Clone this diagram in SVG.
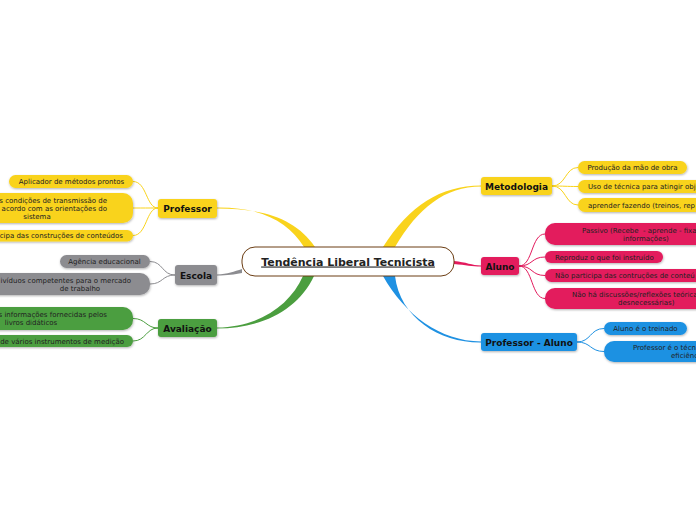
<svg xmlns="http://www.w3.org/2000/svg" width="696" height="520" viewBox="0 0 696 520">
<defs>
<filter id="sh" x="-20%" y="-20%" width="140%" height="160%"><feDropShadow dx="0.5" dy="1" stdDeviation="0.8" flood-color="#000" flood-opacity="0.3"/></filter>
</defs>
<style>
text{font-family:"DejaVu Sans","Verdana",sans-serif;fill:#222;}
.leaf{font-size:7px;}
.br{font-size:9px;font-weight:bold;fill:#111;}
.y{fill:#f9d31c;}
.g{fill:#8c8c90;}
.gr{fill:#4b9e3f;}
.p{fill:#e31a5d;}
.b{fill:#1f91e2;}
.c{fill:none;stroke-width:1;}
</style>
<rect width="696" height="520" fill="#fff"/>
<g id="connectors">
<path d="M217,207.5 C262,207 288,222 304,247 L315,247 C296,219 264,208.5 217,208.5 Z" fill="#f9d31c"/>
<path d="M481,185.5 C440,186 410,205 383,247 L395,247 C418,208 445,186.5 481,186.5 Z" fill="#f9d31c"/>
<path d="M217,327.5 C260,327 290,305 303,276 L314,276 C298,310 262,328.5 217,328.5 Z" fill="#4b9e3f"/>
<path d="M383,276 C405,315 440,341 481,341.5 L481,342.5 C440,343 400,318 395,276 Z" fill="#1f91e2"/>
<path d="M217,274.5 C228,274 234,271.5 242,269 L242,273 C234,274.5 228,275.5 217,275.5 Z" fill="#8c8c90"/>
<path d="M454,261 C466,262 472,265.5 481,265.5 L481,266.5 C472,266.5 466,265 454,264 Z" fill="#e31a5d"/>
<g stroke="#f9d31c" class="c">
<path d="M158,208 C146,208 147,181.5 133,181.5"/>
<path d="M158,208 C146,208 145,208 133,208"/>
<path d="M158,208 C146,208 147,235.5 133,235.5"/>
<path d="M552,186 C566,186 565,167.5 578,167.5"/>
<path d="M552,186 C565,186 565,186.5 578,186.5"/>
<path d="M552,186 C566,186 565,205 578,205"/>
</g>
<g stroke="#8c8c90" class="c">
<path d="M175,275 C162,275 163,261.5 150,261.5"/>
<path d="M175,275 C162,275 163,284 150,284"/>
</g>
<g stroke="#4b9e3f" class="c">
<path d="M158,328 C146,328 146,318.5 133,318.5"/>
<path d="M158,328 C146,328 146,341 133,341"/>
</g>
<g stroke="#e31a5d" class="c">
<path d="M519,266 C533,266 531,234 545,234"/>
<path d="M519,266 C533,266 531,257 545,257"/>
<path d="M519,266 C533,266 531,275.5 545,275.5"/>
<path d="M519,266 C533,266 531,298.5 545,298.5"/>
</g>
<g stroke="#1f91e2" class="c">
<path d="M577,342 C591,342 590,328.5 604,328.5"/>
<path d="M577,342 C591,342 590,351.5 604,351.5"/>
</g>
</g>
<g id="central">
<rect x="242" y="247" width="212" height="29" rx="13" fill="#fff" stroke="#6b3d13" stroke-width="1"/>
<text x="348" y="265.5" text-anchor="middle" font-size="11" font-weight="bold" text-decoration="underline" fill="#222">Tendência Liberal Tecnicista</text>
</g>
<g id="professor">
<rect x="158" y="199" width="59" height="19" rx="3" class="y" filter="url(#sh)"/>
<text x="187.5" y="212" text-anchor="middle" class="br">Professor</text>
</g>
<g id="prof-l1"><rect x="9" y="175" width="124" height="13" rx="6.5" class="y" filter="url(#sh)"/><text x="71.5" y="184" text-anchor="middle" class="leaf">Aplicador de métodos prontos</text></g>
<g id="prof-l2"><rect x="-80" y="193" width="213" height="30" rx="10" class="y" filter="url(#sh)"/>
<text x="107" y="202.5" text-anchor="end" class="leaf">s condições de transmissão de</text>
<text x="107" y="210.8" text-anchor="end" class="leaf">acordo com as orientações do</text>
<text x="37" y="219.3" text-anchor="middle" class="leaf">sistema</text></g>
<g id="prof-l3"><rect x="-60" y="230" width="193" height="11.5" rx="5.75" class="y" filter="url(#sh)"/><text x="123" y="238.3" text-anchor="end" class="leaf">icipa das construções de conteúdos</text></g>
<g id="escola">
<rect x="175" y="265" width="42" height="20" rx="3" class="g" filter="url(#sh)"/>
<text x="196" y="278.5" text-anchor="middle" class="br">Escola</text>
</g>
<g id="esc-l1"><rect x="60" y="255" width="90" height="13" rx="6.5" class="g" filter="url(#sh)"/><text x="104.5" y="264" text-anchor="middle" class="leaf">Agência educacional</text></g>
<g id="esc-l2"><rect x="-60" y="273" width="210" height="22" rx="10" class="g" filter="url(#sh)"/>
<text x="131" y="282.5" text-anchor="end" class="leaf">ivíduos competentes para o mercado</text>
<text x="80" y="290.8" text-anchor="middle" class="leaf">de trabalho</text></g>
<g id="avaliacao">
<rect x="158" y="319" width="59" height="18" rx="3" class="gr" filter="url(#sh)"/>
<text x="187.5" y="331.5" text-anchor="middle" class="br">Avaliação</text>
</g>
<g id="ava-l1"><rect x="-60" y="307" width="193" height="23" rx="10" class="gr" filter="url(#sh)"/>
<text x="107" y="316.5" text-anchor="end" class="leaf">s informações fornecidas pelos</text>
<text x="31" y="325.3" text-anchor="middle" class="leaf">livros didáticos</text></g>
<g id="ava-l2"><rect x="-60" y="335" width="193" height="12" rx="6" class="gr" filter="url(#sh)"/><text x="124" y="343.5" text-anchor="end" class="leaf">de vários instrumentos de medição</text></g>
<g id="metodologia">
<rect x="481" y="177" width="71" height="18" rx="3" class="y" filter="url(#sh)"/>
<text x="516.5" y="189.5" text-anchor="middle" class="br">Metodologia</text>
</g>
<g id="met-l1"><rect x="578" y="161" width="109" height="13" rx="6.5" class="y" filter="url(#sh)"/><text x="632.5" y="170" text-anchor="middle" class="leaf">Produção da mão de obra</text></g>
<g id="met-l2"><rect x="578" y="180" width="140" height="13" rx="6.5" class="y" filter="url(#sh)"/><text x="588" y="189" class="leaf">Uso de técnica para atingir obj</text></g>
<g id="met-l3"><rect x="578" y="198" width="140" height="14" rx="7" class="y" filter="url(#sh)"/><text x="588" y="207.5" class="leaf">aprender fazendo (treinos, rep</text></g>
<g id="aluno">
<rect x="481" y="257" width="38" height="18" rx="3" class="p" filter="url(#sh)"/>
<text x="500" y="269.5" text-anchor="middle" class="br">Aluno</text>
</g>
<g id="alu-l1"><rect x="545" y="223" width="170" height="22" rx="10" class="p" filter="url(#sh)"/>
<text x="582" y="232.5" class="leaf" style="white-space:pre">Passivo (Recebe  - aprende - fixa</text>
<text x="623" y="240.5" class="leaf">informações)</text></g>
<g id="alu-l2"><rect x="545" y="251" width="118" height="12" rx="6" class="p" filter="url(#sh)"/><text x="555" y="259.5" class="leaf">Reproduz o que foi instruído</text></g>
<g id="alu-l3"><rect x="545" y="269" width="170" height="13" rx="6.5" class="p" filter="url(#sh)"/><text x="555" y="278" class="leaf">Não participa das contruções de conteú</text></g>
<g id="alu-l4"><rect x="545" y="288" width="170" height="21" rx="10" class="p" filter="url(#sh)"/>
<text x="572" y="296.8" class="leaf">Não há discussões/reflexões teórica</text>
<text x="618" y="304.8" class="leaf">desnecessárias)</text></g>
<g id="professor-aluno">
<rect x="481" y="333" width="96" height="18" rx="3" class="b" filter="url(#sh)"/>
<text x="529" y="345.5" text-anchor="middle" class="br">Professor - Aluno</text>
</g>
<g id="pa-l1"><rect x="604" y="322" width="83" height="13" rx="6.5" class="b" filter="url(#sh)"/><text x="645.5" y="331" text-anchor="middle" class="leaf">Aluno é o treinado</text></g>
<g id="pa-l2"><rect x="604" y="341" width="110" height="21" rx="10" class="b" filter="url(#sh)"/>
<text x="633" y="350" class="leaf">Professor é o técn</text>
<text x="671" y="358" class="leaf">eficiênc</text></g>
</svg>
